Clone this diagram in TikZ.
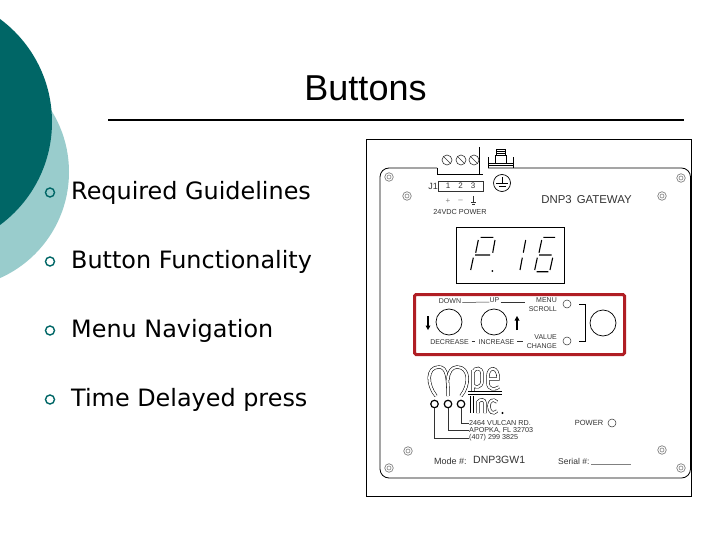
\documentclass[tikz,border=0pt]{standalone}
\usepackage{fontspec}
\setmainfont{Liberation Sans}
\newfontfamily\bulletfont{DejaVu Sans}
\usetikzlibrary{positioning}
\definecolor{tealdark}{HTML}{006666}
\definecolor{teallight}{HTML}{99CCCC}
\definecolor{boxred}{HTML}{B01E24}
\definecolor{inkgray}{HTML}{333333}
\tikzset{
  panelfont/.style={font=\fontsize{#1}{#1}\selectfont,text=inkgray,inner sep=0pt},
  itemtext/.style={font=\bulletfont\fontsize{23.9}{25}\selectfont,anchor=west,inner sep=0pt},
  itemring/.style={draw=tealdark,line width=1.4pt,circle,minimum size=9pt,inner sep=0pt},
  led/.style={draw=inkgray,line width=0.5pt,circle,minimum size=8pt,inner sep=0pt},
  button/.style={draw=black,line width=0.7pt,circle,minimum size=26pt,inner sep=0pt},
  screw/.style={draw=gray,line width=0.7pt,circle,minimum size=8.5pt,inner sep=0pt},
  terminal/.style={draw=inkgray,line width=0.6pt,circle,minimum size=10pt,inner sep=0pt},
  eyelet/.style={draw=black,line width=1.2pt,circle,minimum size=7.5pt,inner sep=0pt},
  seg/.style={line width=1.1pt,black},
  logoline/.style={double,line width=0.55pt,double distance=2.2pt,black},
}
\begin{document}
\begin{tikzpicture}[x=1pt,y=1pt]
\useasboundingbox (0,0) rectangle (720,-540);
% slide background
\fill [white] (0,0) rectangle (720,-540);
\begin{scope}
\clip (0,0) rectangle (720,-540);
\fill [teallight] (-47,-172) circle (116);
\fill [tealdark] (-76,-122) circle (128);
\end{scope}
% title
\node [inner sep=0pt,font=\fontsize{36}{36}\selectfont] (title) at (365.5,-88) {Buttons};
\coordinate (ruleL) at (108,-120);
\coordinate (ruleR) at (684,-120);
\draw [black,line width=1.5pt] (ruleL) -- (ruleR);
% bullets
\node [itemring] (ring1) at (50,-192.5) {};
\node [itemring] (ring2) at (50,-261.5) {};
\node [itemring] (ring3) at (50,-330.5) {};
\node [itemring] (ring4) at (50,-399.5) {};
\node [itemtext] (item1) at (71,-192.5) {Required Guidelines};
\node [itemtext] (item2) at (71,-261.5) {Button Functionality};
\node [itemtext] (item3) at (71,-330.5) {Menu Navigation};
\node [itemtext] (item4) at (71,-399.5) {Time Delayed press};
% panel
\draw [black,line width=0.8pt] (366,-139) rectangle (691,-496);
\draw [black,line width=0.8pt,rounded corners=9pt] (437,-168) -- (380,-168) -- (380,-478) -- (690.5,-478) -- (690.5,-168) -- (488,-168);
\draw [black,line width=0.8pt] (437,-168) -- (437,-174) -- (483,-174);
\draw [black,line width=0.8pt] (479,-147) -- (479,-174);
% terminal screws
\foreach \i/\x in {1/447,2/461,3/474}
{
  \node [terminal] (term\i) at (\x,-160) {};
  \draw [inkgray,line width=0.6pt] (term\i.north west) -- (term\i.south east);
}
% ground lug
\draw [black,line width=0.7pt] (488,-168) -- (488,-157) (513,-168) -- (513,-157);
\draw [black,line width=0.7pt] (488,-163) -- (513,-163) (488,-165.5) -- (513,-165.5);
\draw [black,line width=0.7pt] (495,-163) -- (495,-155) (506,-163) -- (506,-155);
\draw [black,line width=0.5pt] (496,-149) rectangle (505,-155);
\draw [black,line width=0.5pt] (496,-151) -- (505,-151) (496,-153) -- (505,-153);
\node [draw=black,line width=0.7pt,circle,minimum size=17pt,inner sep=0pt] (gnd) at (502,-183) {};
\draw [black,line width=0.7pt] (gnd.center) ++(0,6) -- (gnd.center) ++(-6,0) -- ++(12,0) (gnd.center) ++(-3.5,-3) -- ++(7,0);
% connector strip
\node [panelfont=9] (j1) at (433,-186) {J1};
\draw [inkgray,line width=0.6pt] (438,-181) rectangle (483,-191.5);
\node [panelfont=8] (pin1) at (448,-186) {1};
\node [panelfont=8] (pin2) at (460.5,-186) {2};
\node [panelfont=8] (pin3) at (473,-186) {3};
\node [panelfont=8,text=gray] (plus) at (448,-201) {+};
\node [panelfont=8,text=gray] (minus) at (460.5,-201) {--};
\draw [inkgray,line width=0.6pt] (473.5,-196) -- (473.5,-202) (471,-202.5) -- (476,-202.5) (472,-204.5) -- (475,-204.5);
\node [panelfont=7.3] (power) at (460,-212) {24VDC POWER};
\node [panelfont=11.4] (gateway) at (586.5,-200) {DNP3\, GATEWAY};
% plate screws
\foreach \i/\x/\y in {1/389/177,2/407/196,3/681/178,4/662/196,5/408/451,6/389/468,7/662/450,8/681/468}
{
  \node [screw] (plate\i) at (\x,-\y) {};
  \node [draw=gray,line width=0.6pt,circle,minimum size=4pt,inner sep=0pt] (hole\i) at (\x,-\y) {};
}
% display
\draw [black,line width=0.8pt] (456,-227) rectangle (564,-283);
\draw [seg] (480.7,-237.3) -- (493.3,-237.3) (478.3,-240) -- (475.7,-252.7) (495,-240) -- (492.7,-252.7) (475,-255) -- (490,-255) (473.3,-257.7) -- (470.7,-270);
\fill [black] (492.3,-271) circle (1);
\draw [seg] (525.7,-240) -- (523.3,-252.7) (522.3,-257.7) -- (520,-270);
\draw [seg] (543.3,-237.3) -- (555,-237.3) (541.7,-240) -- (539,-252.7) (539,-255) -- (551.7,-255) (537.3,-257.7) -- (534.7,-270) (552.7,-257.7) -- (550,-270) (536.7,-271.7) -- (548.3,-271.7);
% button group
\draw [boxred,line width=3pt,rounded corners=1.5pt] (414.5,-294.5) rectangle (624.5,-354.5);
\node [button] (down) at (449,-322) {};
\node [button] (up) at (494,-322) {};
\node [button] (scroll) at (603,-323) {};
\node [led] (ledmenu) at (567,-304) {};
\node [led] (ledvalue) at (567,-341) {};
\draw [black,line width=0.8pt,shorten <=8pt,shorten >=8pt] (ledmenu) -- ++(18,0) |- (ledvalue);
\node [panelfont=7] (lbldown) at (450,-301) {DOWN};
\node [panelfont=7] (lblup) at (494.5,-300.5) {UP};
\draw [inkgray,line width=0.5pt] (lbldown.east) ++(1,-1.5) -- ([yshift=-1.5pt]lblup.west);
\draw [inkgray,line width=0.5pt] (lblup.east) ++(1,-1.5) -- (525,-302);
\node [panelfont=7,anchor=east] (lblmenu) at (557,-300) {MENU};
\node [panelfont=7,anchor=east] (lblscroll) at (557,-309) {SCROLL};
\node [panelfont=7,anchor=east] (lblvalue) at (557,-337) {VALUE};
\node [panelfont=7,anchor=east] (lblchange) at (557,-346) {CHANGE};
\node [panelfont=7] (lbldec) at (449.5,-342) {DECREASE};
\node [panelfont=7] (lblinc) at (496.5,-342) {INCREASE};
\draw [inkgray,line width=0.5pt] (471.5,-341.5) -- (475,-341.5) (517,-341.5) -- (523,-341.5);
\coordinate (downA) at (428,-316);
\coordinate (downB) at (428,-330);
\coordinate (upA) at (517,-330);
\coordinate (upB) at (517,-316);
\draw [black,line width=1.3pt] (downA) -- (428,-326);
\fill [black] (downB) -- (425.5,-325.5) -- (430.5,-325.5);
\draw [black,line width=1.3pt] (upA) -- (517,-320);
\fill [black] (upB) -- (514.5,-320.5) -- (519.5,-320.5);
% logo
\draw [logoline] (436,-396) .. controls (427,-385) and (426,-367) .. (439,-367) .. controls (447,-367) and (448,-378) .. (448,-396);
\draw [logoline] (448,-380) .. controls (448,-372) and (452,-367) .. (457,-367) .. controls (470,-367) and (470,-385) .. (461,-396);
\draw [logoline] (473,-391) -- (473,-370) (473,-372) .. controls (475,-367) and (482,-367) .. (482,-374) -- (482,-381) .. controls (482,-388) and (475,-388) .. (473,-385);
\draw [logoline] (488,-379) -- (498,-379) .. controls (499,-366) and (488,-366) .. (488,-376) -- (488,-383) .. controls (488,-390) and (495,-390) .. (499,-387);
\draw [black,line width=0.6pt] (468,-391) -- (502,-391) (468,-394) -- (502,-394);
\draw [logoline] (472,-396) -- (472,-413);
\draw [logoline] (478,-413) -- (478,-402) .. controls (480,-399) and (485,-399) .. (485,-403) -- (485,-413);
\draw [logoline] (497,-402) .. controls (493,-398) and (489,-401) .. (489,-406) .. controls (489,-412) and (493,-415) .. (497,-411);
\fill [black] (502.5,-413) circle (1.2);
\node [eyelet] (eye1) at (434.5,-404) {};
\node [eyelet] (eye2) at (448,-404) {};
\node [eyelet] (eye3) at (461,-404) {};
\node [panelfont=7.2,anchor=west] (addr1) at (469,-423) {2464 VULCAN RD.};
\node [panelfont=7.2,anchor=west] (addr2) at (469,-430.5) {APOPKA, FL 32703};
\node [panelfont=7.2,anchor=west] (addr3) at (469,-438) {(407) 299  3825};
\draw [inkgray,line width=0.6pt] (eye1) |- (addr3.west);
\draw [inkgray,line width=0.6pt] (eye2) |- (addr2.west);
\draw [inkgray,line width=0.6pt] (eye3) |- (addr1.west);
% lower labels
\node [panelfont=7.5] (lblpower) at (589,-423) {POWER};
\node [led] (ledpower) at (612,-423) {};
\node [panelfont=9,anchor=west] (lblmode) at (434,-461) {Mode \#:};
\node [panelfont=10.5,anchor=west] (lblmodel) at (473,-460) {DNP3GW1};
\node [panelfont=8.5,anchor=west] (lblserial) at (558,-461) {Serial \#:};
\coordinate (serialend) at (631,-464);
\draw [gray,line width=0.5pt] (591,-464) -- (serialend);
\end{tikzpicture}
\end{document}
